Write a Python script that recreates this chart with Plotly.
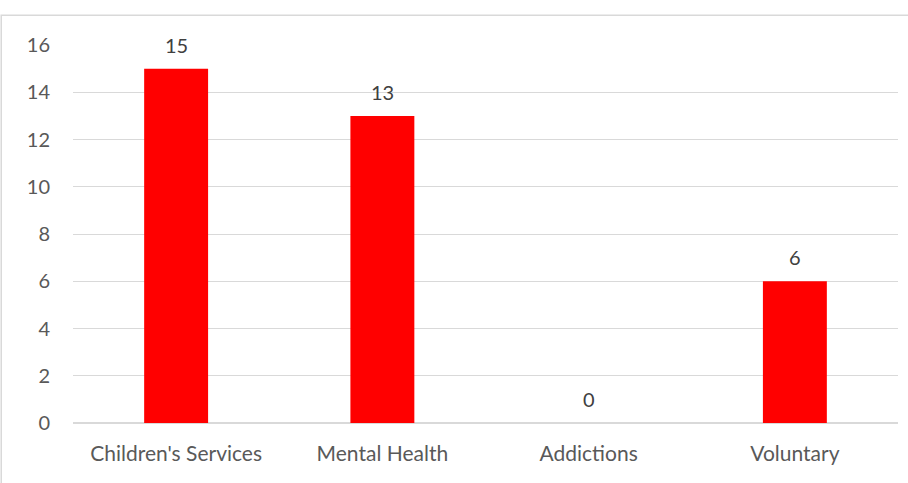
import plotly.graph_objects as go

categories = ["Children's Services", "Mental Health", "Addictions", "Voluntary"]
values = [15, 13, 0, 6]
y_ticks = [0, 2, 4, 6, 8, 10, 12, 14, 16]

FONT = "Lato, 'Open Sans', sans-serif"
FS = 20

fig = go.Figure(go.Bar(
    x=categories, y=values,
    marker=dict(color="#FF0000", line=dict(width=0)),
    cliponaxis=False,
    hoverinfo="skip",
))

annotations = [dict(x=c, y=v, xref="x", yref="y", text=str(v), showarrow=False,
                    yanchor="bottom", yshift=10,
                    font=dict(family=FONT, size=FS, color="#404040"))
               for c, v in zip(categories, values)]

fig.update_layout(
    width=908, height=483,
    margin=dict(l=73, r=10, t=45, b=60),
    paper_bgcolor="white", plot_bgcolor="white",
    bargap=0.69,
    showlegend=False,
    font=dict(family=FONT, color="#595959", size=FS),
    xaxis=dict(showgrid=False, showline=False, ticks="", ticklabelstandoff=16,
               tickfont=dict(size=21, color="#595959")),
    yaxis=dict(range=[0, 16], tickvals=y_ticks, showgrid=True, gridcolor="#d9d9d9",
               gridwidth=1, zeroline=True, zerolinecolor="#d9d9d9", zerolinewidth=1.5,
               showline=False, ticks="", ticklabelstandoff=22,
               tickfont=dict(size=FS, color="#595959")),
    annotations=annotations,
    shapes=[dict(type="rect", xref="paper", yref="paper",
                 x0=-0.087, x1=1.1, y0=-0.3, y1=1.079,
                 line=dict(color="#d9d9d9", width=1.5), fillcolor="rgba(0,0,0,0)",
                 layer="below")],
)

fig.write_html("out.html", config={"displayModeBar": False},
               post_script="document.body.style.margin='0';")
